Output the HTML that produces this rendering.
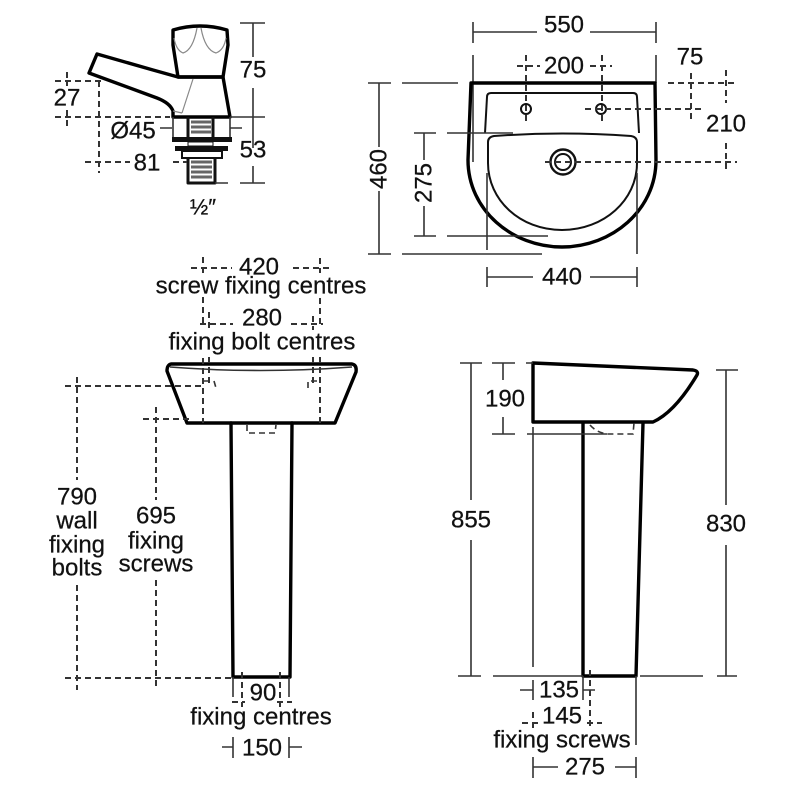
<!DOCTYPE html>
<html><head><meta charset="utf-8"><style>
html,body{margin:0;padding:0;background:#fff}
svg{display:block}
text{font-family:"Liberation Sans",sans-serif;font-size:24px;fill:#111;stroke:#111;stroke-width:.25px;text-anchor:middle;dominant-baseline:central}
.t{font-size:24px}
.d{stroke:#333;stroke-width:2;stroke-dasharray:6 4;fill:none}
.l{stroke:#333;stroke-width:1.6;fill:none}
.b{stroke:#000;stroke-width:3.4;fill:none;stroke-linejoin:round;stroke-linecap:round}
.m{stroke:#111;stroke-width:2;fill:none;stroke-linejoin:round}
.g{stroke:#888;stroke-width:1.2;fill:none}
</style></head><body>
<svg width="800" height="800" viewBox="0 0 800 800" xmlns="http://www.w3.org/2000/svg">
<rect width="800" height="800" fill="#fff"/>

<!-- TAP -->
<path class="b" d="M173 30Q200 22 227 30L228 45L223 77H178L173 45Z"/>
<path class="g" d="M197 28Q193 50 183 53Q176 50 174 38M201 28Q205 50 216 53Q224 50 226 38"/>
<path class="b" d="M97 54L89 73L157 98Q170 103 173 111V117H230L223 77H178L153 70Z"/>
<path class="g" d="M193 79L182 113M173 111L182 113"/>
<path class="l" d="M173 117V137M230 117V137"/>
<path class="m" stroke-width="3" style="stroke-width:3" d="M188 117V137M213 117V137"/>
<path d="M191 122H211M191 127H211M191 132H211" fill="none" stroke="#666" stroke-width="3"/>
<rect x="172" y="137" width="60" height="5" fill="#111"/>
<rect x="188" y="142" width="25" height="4" fill="none" stroke="#111"/>
<rect x="175" y="146" width="53" height="5" fill="#111"/>
<rect x="182" y="151" width="40" height="7" fill="none" stroke="#111" stroke-width="2"/>
<path class="m" style="stroke-width:3" d="M188 158V183H215V158"/>
<path d="M191 162H212M191 167H212M191 172H212M191 177H212" fill="none" stroke="#666" stroke-width="3"/>
<path class="l" d="M240 23H265M253 23V57M253 88V148M253 166V183M240 183H265M215 183H228M230 117H265M160 128H172M230 128H242"/>
<path class="d" d="M55 117H170M67 72V86M67 110V128M55 81H103M99 81V173M85 162H130M173 162H187"/>
<text x="253" y="70">75</text><text x="253" y="150">53</text><text x="67" y="98">27</text>
<text x="133" y="131">Ø45</text><text x="147" y="163">81</text>
<text x="203" y="207" style="font-size:22px">½″</text>

<!-- BASIN TOP -->
<path class="l" d="M473 22V43M656 22V43M473 32H537M590 32H656M473 55V162M656 55V83"/>
<path class="b" d="M471 83H655L656 160C656 210 612 247 562 247C512 247 468 210 468 160Z"/>
<path class="m" d="M485 133L487 97Q487 93 491 93H633Q637 93 637 97L639 133"/>
<path class="m" d="M488 142Q488 137 494 136Q562 131 631 136Q637 137 637 142V163C637 200 604 230 562 230C520 230 488 200 488 163Z"/>
<circle cx="563" cy="162" r="12.5" class="m" style="stroke-width:2.4"/><circle cx="563" cy="162" r="8" class="m"/>
<circle cx="526" cy="109" r="5" class="m"/><circle cx="601" cy="109" r="5" class="m"/>
<path class="d" d="M517 66H540M590 66H612M526 55V122M602 55V122M668 83H737M691 73V122M726 70V103M726 143V173M585 109H705M545 162H737"/>
<path class="l" d="M379 83V254M368 83H391M402 83H458M368 254H391M402 254H542M424 133V236M414 133H436M447 133H513M414 236H436M447 236H548M487 173V250M637 173V254M487 267V287M637 267V287M487 277H533M590 277H637"/>
<rect x="370" y="147" width="18" height="44" fill="#fff"/><rect x="415" y="160" width="18" height="46" fill="#fff"/>
<text x="564" y="25">550</text><text x="564" y="66">200</text><text x="690" y="57">75</text><text x="726" y="124">210</text>
<text x="562" y="277">440</text>
<text transform="translate(379 169) rotate(-90)" x="0" y="0">460</text>
<text transform="translate(424 183) rotate(-90)" x="0" y="0">275</text>

<!-- FRONT -->
<path class="b" d="M171 364H352Q357 365 356 372L335 423H187L167 371Q167 365 171 364Z"/>
<path class="g" stroke="#333" style="stroke:#333;stroke-width:1.6" d="M170 367Q260 374 352 367"/>
<path class="b" d="M231 423L233 677H290L292 423"/>
<path class="d" style="stroke-width:1.6" d="M247 425V433H275L276 425"/>
<path class="d" d="M191 268H232M293 268H330M203 257V275M203 297V325M203 358V423M320 258V273M320 298V325M320 357V423M200 324H233M291 324H323M209 312V332M209 357V387M313 316V330M313 357V387M65 386H203M77 377V480M77 585V690M65 678H233M156 407V500M156 580V687M143 419H190"/>
<path class="d" style="stroke-width:1.6" d="M204 381H214L216 388M317 381H308V388"/>
<path class="l" d="M233 677V697M289 677V697M233 737V758M289 737V758M222 747H233M289 747H302"/>
<path class="d" d="M242 672V707M280 672V707M232 702H245M277 702H292"/>
<text x="259" y="267">420</text><text x="261" y="286" class="t">screw fixing centres</text>
<text x="262" y="318">280</text><text x="262" y="342" class="t">fixing bolt centres</text>
<text x="77" y="497" class="t">790</text><text x="77" y="521" class="t">wall</text><text x="77" y="545" class="t">fixing</text><text x="77" y="568" class="t">bolts</text>
<text x="156" y="516" class="t">695</text><text x="156" y="541" class="t">fixing</text><text x="156" y="564" class="t">screws</text>
<text x="263" y="693" class="t">90</text><text x="261" y="717" class="t">fixing centres</text><text x="262" y="748">150</text>

<!-- SIDE -->
<path class="b" d="M533 363L693 370Q699 371 697 375Q675 412 653 422H533Z"/>
<path class="b" d="M583 423V676H636L643 423"/>
<path class="d" style="stroke-width:1.6" d="M590 425Q597 433 608 434H633L634 423"/>
<path class="l" d="M471 363V500M471 540V676M460 363H482M458 676H481M493 676H583M640 676H703M717 676H737M503 363V380M503 417V434M492 363H515M492 434H515M527 434H607M526 363H533M726 370V505M726 545V676M716 370H738M533 427V667M533 680V700M520 690H533M583 676V700M583 690H595M636 676V745M533 757V778M636 757V778M533 767H558M615 767H636"/>
<path class="d" d="M533 712V730M522 723H540M590 670V730M587 723H602"/>
<text x="505" y="399">190</text><text x="471" y="520">855</text><text x="726" y="524">830</text>
<text x="559" y="690" class="t">135</text><text x="562" y="716" class="t">145</text><text x="562" y="740" class="t">fixing screws</text><text x="585" y="767">275</text>
</svg>
</body></html>
